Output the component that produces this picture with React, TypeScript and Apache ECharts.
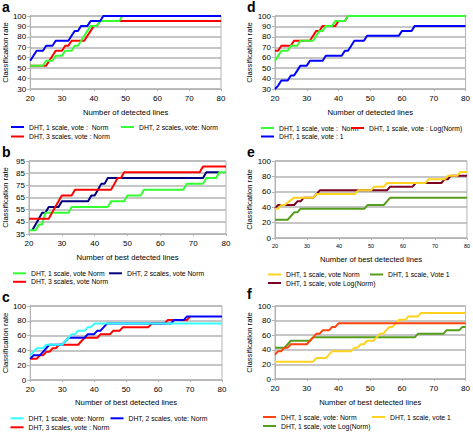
import { useEffect, useRef } from 'react';
import * as echarts from 'echarts';

// ---------- data ----------
const X_MIN = 20;
const X_MAX = 80;
const X_STEP = 10;
const yAxisTitle = 'Classification rate';
const xTitles = [
  'Number of detected lines',
  'Number of best detected lines',
  'Number of best detected lines',
  'Number of detected lines',
  'Number of best detected lines',
  'Number of best detected lines',
];
const panelLetters = ['a', 'b', 'c', 'd', 'e', 'f'];
const yRanges = [
  [30, 100, 10],
  [35, 95, 10],
  [0, 100, 20],
  [30, 100, 10],
  [0, 100, 20],
  [0, 100, 20],
];

// panel a
const aLabels = ['DHT, 1 scale, vote :  Norm', 'DHT, 2 scales, vote: Norm', 'DHT, 3 scales, vote : Norm'];
const aBlue = [[20, 57.1], [21, 61.9], [22, 66.7], [24, 66.7], [25, 71.4], [27, 71.4], [28, 76.2], [32, 76.2], [33, 81], [34, 85.7], [35, 85.7], [36, 90.5], [38, 90.5], [39, 95.2], [42, 95.2], [43, 100], [80, 100]];
const aGreen = [[20, 52.4], [24, 52.4], [25, 57.1], [27, 57.1], [28, 61.9], [30, 61.9], [31, 66.7], [33, 66.7], [34, 71.4], [35, 71.4], [36, 76.2], [37, 81], [38, 85.7], [39, 90.5], [41, 90.5], [42, 95.2], [48, 95.2], [49, 100], [80, 100]];
const aRed = [[20, 52.4], [25, 52.4], [26, 57.1], [27, 61.9], [28, 66.7], [30, 66.7], [31, 71.4], [32, 71.4], [33, 76.2], [37, 76.2], [38, 81], [39, 85.7], [40, 90.5], [41, 90.5], [42, 95.2], [80, 95.2]];

// panel b
const bLabels = ['DHT, 1 scale, vote Norm', 'DHT, 2 scales, vote Norm', 'DHT, 3 scales, vote Norm'];
const bGreen = [[20, 38.1], [22, 38.1], [23, 42.9], [24, 42.9], [25, 52.4], [32, 52.4], [33, 57.1], [44, 57.1], [45, 61.9], [49, 61.9], [50, 66.7], [54, 66.7], [55, 71.4], [67, 71.4], [68, 76.2], [73, 76.2], [74, 81], [77, 81], [78, 85.7], [80, 85.7]];
const bNavy = [[21, 38.1], [22, 42.9], [23, 47.6], [24, 52.4], [25, 52.4], [26, 57.1], [29, 57.1], [30, 61.9], [38, 61.9], [39, 66.7], [40, 66.7], [41, 71.4], [42, 76.2], [43, 76.2], [44, 81], [73, 81], [74, 85.7], [78, 85.7]];
const bRed = [[20, 47.6], [26, 47.6], [27, 52.4], [28, 57.1], [29, 61.9], [30, 66.7], [33, 66.7], [34, 71.4], [45, 71.4], [46, 76.2], [47, 81], [48, 81], [49, 85.7], [72, 85.7], [73, 90.5], [80, 90.5]];

// panel c
const cLabels = ['DHT, 1 scale, vote: Norm', 'DHT, 2 scales, vote: Norm', 'DHT, 3 scales, vote : Norm'];
const cCyan = [[20, 33.3], [21, 38.1], [22, 42.9], [24, 42.9], [25, 47.6], [30, 47.6], [31, 52.4], [32, 57.1], [33, 61.9], [34, 61.9], [35, 66.7], [37, 66.7], [38, 71.4], [39, 71.4], [40, 76.2], [80, 76.2]];
const cBlue = [[20, 28.6], [21, 33.3], [23, 33.3], [24, 38.1], [25, 42.9], [26, 47.6], [30, 47.6], [31, 52.4], [32, 57.1], [37, 57.1], [38, 61.9], [40, 61.9], [41, 66.7], [42, 66.7], [43, 71.4], [44, 76.2], [64, 76.2], [65, 81], [68, 81], [69, 85.7], [80, 85.7]];
const cRed = [[20, 28.6], [22, 28.6], [23, 33.3], [24, 33.3], [25, 38.1], [26, 38.1], [27, 42.9], [28, 42.9], [29, 47.6], [35, 47.6], [36, 52.4], [37, 57.1], [41, 57.1], [42, 61.9], [45, 61.9], [46, 66.7], [48, 66.7], [49, 71.4], [57, 71.4], [58, 76.2], [62, 76.2], [63, 81], [69, 81], [70, 85.7]];

// panel d
const dLabels = ['DHT, 1 scale, vote :  Norm', 'DHT, 1 scale, vote : Log(Norm)', 'DHT, 1 scale, vote : 1'];
const dGreen = [[20, 57.1], [21, 61.9], [22, 66.7], [24, 66.7], [25, 71.4], [27, 71.4], [28, 76.2], [32, 76.2], [33, 81], [34, 85.7], [35, 85.7], [36, 90.5], [38, 90.5], [39, 95.2], [42, 95.2], [43, 100], [80, 100]];
const dRed = [[20, 66.7], [21, 66.7], [22, 71.4], [25, 71.4], [26, 76.2], [31, 76.2], [32, 81], [33, 85.7], [34, 85.7], [35, 90.5], [39, 90.5], [40, 95.2], [42, 95.2], [43, 100], [80, 100]];
const dBlue = [[20, 30], [21, 33.3], [22, 38.1], [24, 38.1], [25, 42.9], [26, 42.9], [27, 47.6], [28, 52.4], [30, 52.4], [31, 57.1], [35, 57.1], [36, 61.9], [41, 61.9], [42, 66.7], [43, 66.7], [44, 71.4], [45, 76.2], [48, 76.2], [49, 81], [59, 81], [60, 85.7], [63, 85.7], [64, 90.5], [80, 90.5]];

// panel e
const eLabels = ['DHT, 1 scale, vote Norm', 'DHT, 1 scale, Vote 1', 'DHT, 1 scale, vote Log(Norm)'];
const eYellow = [[20, 38.1], [21, 38.1], [22, 42.9], [23, 42.9], [26, 52.4], [32, 52.4], [33, 57.1], [45, 57.1], [46, 61.9], [50, 61.9], [51, 66.7], [54, 66.7], [55, 71.4], [67, 71.4], [68, 76.2], [73, 76.2], [74, 81], [77, 81], [78, 85.7], [80, 85.7]];
const eGreen = [[20, 23.8], [24, 23.8], [25, 28.6], [26, 33.3], [27, 33.3], [28, 38.1], [48, 38.1], [49, 42.9], [54, 42.9], [55, 47.6], [56, 52.4], [80, 52.4]];
const eRed = [[20, 38.1], [21, 42.9], [26, 42.9], [27, 47.6], [28, 47.6], [29, 52.4], [32, 52.4], [33, 57.1], [34, 61.9], [55, 61.9], [56, 66.7], [63, 66.7], [64, 71.4], [72, 71.4], [73, 76.2], [74, 76.2], [75, 81], [80, 81]];

// panel f
const fLabels = ['DHT, 1 scale, vote: Norm', 'DHT, 1 scale, vote 1', 'DHT, 1 scale, vote Log(Norm)'];
const fOrange = [[20, 33.3], [21, 38.1], [22, 38.1], [23, 42.9], [24, 42.9], [25, 47.6], [30, 47.6], [31, 52.4], [32, 57.1], [33, 61.9], [34, 61.9], [35, 66.7], [37, 66.7], [38, 71.4], [39, 71.4], [40, 76.2], [80, 76.2]];
const fYellow = [[20, 23.8], [32, 23.8], [33, 28.6], [36, 28.6], [37, 33.3], [38, 38.1], [44, 38.1], [45, 42.9], [46, 42.9], [47, 47.6], [48, 47.6], [49, 52.4], [51, 52.4], [52, 57.1], [53, 61.9], [54, 61.9], [55, 66.7], [56, 71.4], [57, 71.4], [58, 76.2], [59, 81], [61, 81], [62, 85.7], [65, 85.7], [66, 90.5], [80, 90.5]];
const fGreen = [[20, 42.9], [23, 42.9], [24, 47.6], [25, 52.4], [31, 52.4], [32, 57.1], [64, 57.1], [65, 61.9], [73, 61.9], [74, 66.7], [78, 66.7], [79, 71.4], [80, 71.4]];

// ---------- styling / layout ----------
const FONT = '"Liberation Sans", Arial, sans-serif';
const GRID_COLOR = '#b3b3b3';

const panels = [
  { labels: aLabels, data: [aBlue, aGreen, aRed], colors: ['#0000ff', '#33ff33', '#ff0000'], order: [2, 1, 0],
    grid: { left: 28, top: 16, width: 193, height: 73 }, letter: [2, 0], legend: [[29, 128], [139, 128], [29, 137.5]], xFont: 8, xGap: 19 },
  { labels: bLabels, data: [bGreen, bNavy, bRed], colors: ['#33ff33', '#000080', '#ff0000'], order: [1, 0, 2],
    grid: { left: 28, top: 161, width: 198, height: 73 }, letter: [2, 145], legend: [[31, 274.3], [127, 274.3], [31, 282.8]], xFont: 8, xGap: 19 },
  { labels: cLabels, data: [cCyan, cBlue, cRed], colors: ['#33ffff', '#0000ff', '#ff0000'], order: [2, 1, 0],
    grid: { left: 28, top: 306, width: 194, height: 74 }, letter: [2, 290], legend: [[28.5, 419.3], [128.5, 419.3], [28.5, 428.3]], xFont: 8, xGap: 18 },
  { labels: dLabels, data: [dGreen, dRed, dBlue], colors: ['#33ff33', '#ff0000', '#0000ff'], order: [1, 0, 2],
    grid: { left: 275, top: 16, width: 193, height: 73 }, letter: [247, 0], legend: [[279, 129], [369, 129], [279, 137.5]], xFont: 8, xGap: 19 },
  { labels: eLabels, data: [eYellow, eGreen, eRed], colors: ['#ffd320', '#579d1c', '#7e0021'], order: [1, 2, 0],
    grid: { left: 275, top: 161, width: 194, height: 77 }, letter: [247, 145], legend: [[286, 275.5], [388, 275.5], [286, 284]], xFont: 5.5, xGap: 17 },
  { labels: fLabels, data: [fOrange, fYellow, fGreen], colors: ['#ff420e', '#ffd320', '#579d1c'], order: [2, 1, 0],
    grid: { left: 275, top: 306, width: 193, height: 73 }, letter: [247, 287], legend: [[281, 418], [390, 418], [281, 427]], xFont: 8, xGap: 19 },
];

function buildOption() {
  const grid: any[] = [];
  const xAxis: any[] = [];
  const yAxis: any[] = [];
  const series: any[] = [];
  const legend: any[] = [];
  const graphic: any[] = [];
  const nameMap: Record<string, string> = {};

  panels.forEach((p, i) => {
    grid.push({ ...p.grid, show: true, borderColor: GRID_COLOR, borderWidth: 1, containLabel: false });
    xAxis.push({
      type: 'value', gridIndex: i, min: X_MIN, max: X_MAX, interval: X_STEP,
      axisLine: { show: true, lineStyle: { color: GRID_COLOR, width: 1 } },
      axisTick: { show: true, length: 2, lineStyle: { color: GRID_COLOR } },
      splitLine: { show: false },
      axisLabel: { fontSize: p.xFont, color: '#000', margin: 5, fontFamily: FONT },
      name: xTitles[i], nameLocation: 'middle', nameGap: p.xGap,
      nameTextStyle: { fontSize: 7.7, color: '#000', fontFamily: FONT },
    });
    const [ymin, ymax, yint] = yRanges[i];
    yAxis.push({
      type: 'value', gridIndex: i, min: ymin, max: ymax, interval: yint,
      axisLine: { show: true, lineStyle: { color: GRID_COLOR, width: 1 } },
      axisTick: { show: true, length: 3, lineStyle: { color: GRID_COLOR } },
      splitLine: { show: true, lineStyle: { color: GRID_COLOR, width: 1.5 } },
      axisLabel: { fontSize: 8, color: '#000', margin: 4, fontFamily: FONT },
      name: yAxisTitle, nameLocation: 'middle', nameGap: 20,
      nameTextStyle: { fontSize: 7.7, color: '#000', fontFamily: FONT },
    });
    p.order.forEach((k) => {
      const key = panelLetters[i] + k;
      nameMap[key] = p.labels[k];
      series.push({
        type: 'line', name: key, xAxisIndex: i, yAxisIndex: i,
        data: p.data[k], showSymbol: false, symbol: 'none', clip: true,
        color: p.colors[k], lineStyle: { color: p.colors[k], width: 2 },
      });
    });
    p.labels.forEach((_, k) => {
      const [tx, ty] = p.legend[k];
      legend.push({
        data: [panelLetters[i] + k], left: tx - 18, top: ty - 4.5, padding: 0, itemGap: 0,
        itemWidth: 13, itemHeight: 2, icon: 'rect', selectedMode: false,
        formatter: (n: string) => nameMap[n],
        textStyle: { fontSize: 6.8, color: '#000', fontFamily: FONT },
      });
    });
    graphic.push({
      type: 'text', left: p.letter[0], top: p.letter[1],
      style: { text: panelLetters[i], font: 'bold 14px "Liberation Sans", Arial, sans-serif', fill: '#000' },
    });
  });

  return { animation: false, backgroundColor: '#fff', grid, xAxis, yAxis, series, legend, graphic };
}

export default function App() {
  const ref = useRef<HTMLDivElement>(null);
  useEffect(() => {
    const chart = echarts.init(ref.current!, null, { renderer: 'svg' });
    chart.setOption(buildOption());
    return () => chart.dispose();
  }, []);
  return <div ref={ref} style={{ position: 'absolute', left: 0, top: 0, width: 473, height: 432 }} />;
}
